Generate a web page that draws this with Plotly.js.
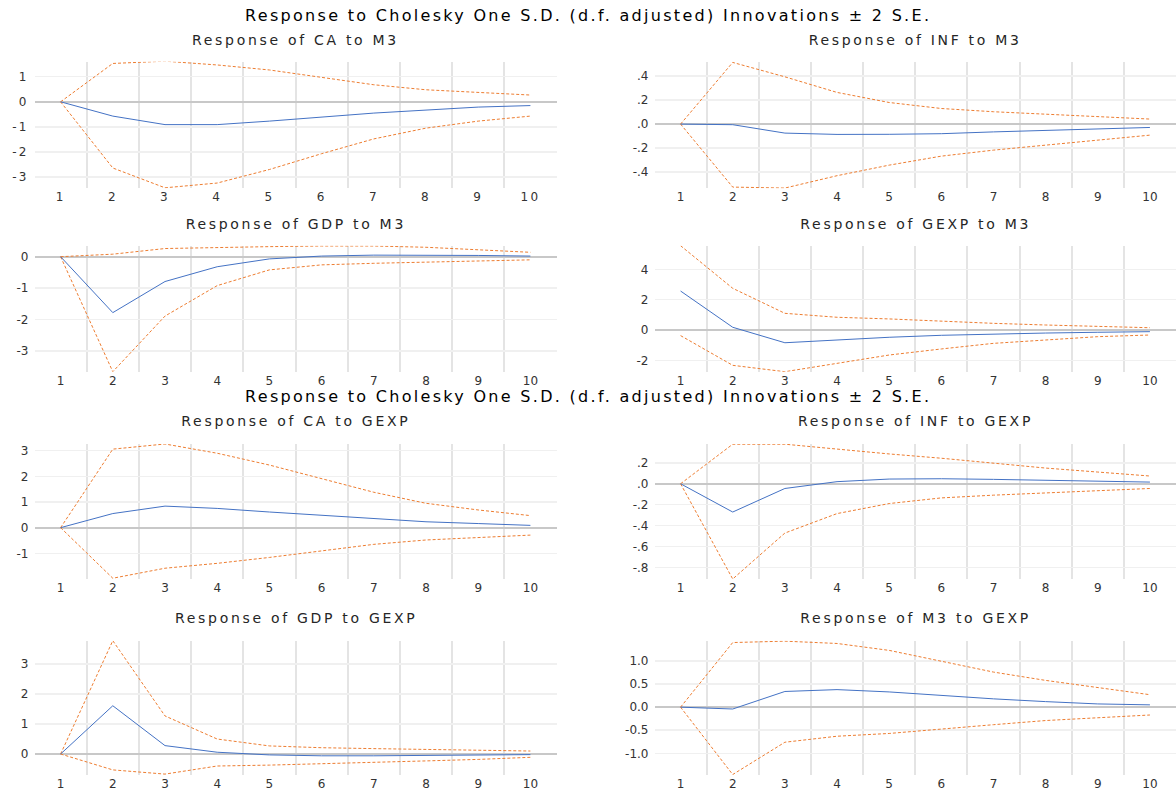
<!DOCTYPE html>
<html>
<head>
<meta charset="utf-8">
<script src="https://cdn.plot.ly/plotly-3.0.1.min.js"></script>
<style>
  html, body { margin: 0; padding: 0; background: #fff; }
  #chart { width: 1176px; height: 794px; }
  .main-svg .xtick text, .main-svg .ytick text { letter-spacing: 2.2px; }
  .main-svg .annotation-text { letter-spacing: 2.7px; }
  .main-svg .annotation.main-title .annotation-text { letter-spacing: 2.3px; }
</style>
</head>
<body>
<div id="chart"></div>
<script>
// ---------------- DATA ----------------
const periods = [1, 2, 3, 4, 5, 6, 7, 8, 9, 10];

const mainTitle = "Response to Cholesky One S.D. (d.f. adjusted) Innovations ± 2 S.E.";

const panelTitles = [
  "Response of CA to M3", "Response of INF to M3",
  "Response of GDP to M3", "Response of GEXP to M3",
  "Response of CA to GEXP", "Response of INF to GEXP",
  "Response of GDP to GEXP", "Response of M3 to GEXP"
];

// Response of CA to M3
const caM3Resp  = [0, -0.57, -0.91, -0.91, -0.77, -0.61, -0.45, -0.33, -0.21, -0.15];
const caM3Upper = [0, 1.53, 1.62, 1.47, 1.27, 0.98, 0.68, 0.48, 0.37, 0.27];
const caM3Lower = [0, -2.64, -3.43, -3.24, -2.70, -2.07, -1.48, -1.05, -0.77, -0.57];

// Response of INF to M3
const infM3Resp  = [0, -0.005, -0.075, -0.086, -0.085, -0.080, -0.065, -0.053, -0.040, -0.028];
const infM3Upper = [0, 0.514, 0.394, 0.264, 0.180, 0.130, 0.103, 0.083, 0.064, 0.042];
const infM3Lower = [0, -0.525, -0.533, -0.430, -0.342, -0.267, -0.217, -0.175, -0.139, -0.092];

// Response of GDP to M3
const gdpM3Resp  = [0, -1.78, -0.79, -0.32, -0.07, 0.02, 0.05, 0.05, 0.04, 0.02];
const gdpM3Upper = [0, 0.08, 0.26, 0.30, 0.32, 0.34, 0.34, 0.30, 0.23, 0.14];
const gdpM3Lower = [0, -3.66, -1.89, -0.92, -0.42, -0.26, -0.21, -0.17, -0.13, -0.10];

// Response of GEXP to M3
const gexpM3Resp  = [2.57, 0.18, -0.84, -0.66, -0.48, -0.35, -0.26, -0.20, -0.15, -0.11];
const gexpM3Upper = [5.56, 2.75, 1.10, 0.84, 0.73, 0.57, 0.44, 0.33, 0.24, 0.15];
const gexpM3Lower = [-0.37, -2.33, -2.75, -2.20, -1.65, -1.25, -0.88, -0.66, -0.44, -0.33];

// Response of CA to GEXP
const caGexpResp  = [0, 0.55, 0.84, 0.75, 0.61, 0.48, 0.35, 0.23, 0.16, 0.09];
const caGexpUpper = [0, 3.06, 3.26, 2.90, 2.44, 1.92, 1.38, 0.95, 0.69, 0.47];
const caGexpLower = [0, -1.97, -1.58, -1.39, -1.16, -0.90, -0.65, -0.48, -0.38, -0.29];

// Response of INF to GEXP
const infGexpResp  = [0, -0.27, -0.045, 0.020, 0.045, 0.048, 0.042, 0.035, 0.026, 0.016];
const infGexpUpper = [0, 0.378, 0.378, 0.330, 0.285, 0.244, 0.195, 0.150, 0.112, 0.074];
const infGexpLower = [0, -0.91, -0.471, -0.285, -0.189, -0.135, -0.109, -0.087, -0.067, -0.045];

// Response of GDP to GEXP
const gdpGexpResp  = [0, 1.61, 0.28, 0.06, -0.03, -0.06, -0.06, -0.04, -0.03, -0.02];
const gdpGexpUpper = [0, 3.78, 1.27, 0.50, 0.27, 0.21, 0.18, 0.16, 0.13, 0.10];
const gdpGexpLower = [0, -0.53, -0.67, -0.40, -0.37, -0.33, -0.29, -0.23, -0.18, -0.11];

// Response of M3 to GEXP
const m3GexpResp  = [0, -0.04, 0.34, 0.38, 0.33, 0.25, 0.18, 0.12, 0.07, 0.05];
const m3GexpUpper = [0, 1.40, 1.43, 1.38, 1.23, 0.99, 0.76, 0.58, 0.42, 0.27];
const m3GexpLower = [0, -1.46, -0.76, -0.63, -0.57, -0.47, -0.38, -0.29, -0.23, -0.17];

// Y tick values and labels
const intTicks5   = [-3, -2, -1, 0, 1];
const intLabels5  = ["-3", "-2", "-1", "0", "1"];
const gdpM3Ticks  = [-3, -2, -1, 0];
const gdpM3Labels = ["-3", "-2", "-1", "0"];
const infM3Ticks  = [-0.4, -0.2, 0, 0.2, 0.4];
const infM3Labels = ["-.4", "-.2", ".0", ".2", ".4"];
const gexpM3Ticks  = [-2, 0, 2, 4];
const gexpM3Labels = ["-2", "0", "2", "4"];
const caGexpTicks  = [-1, 0, 1, 2, 3];
const caGexpLabels = ["-1", "0", "1", "2", "3"];
const infGexpTicks  = [-0.8, -0.6, -0.4, -0.2, 0, 0.2];
const infGexpLabels = ["-.8", "-.6", "-.4", "-.2", ".0", ".2"];
const gdpGexpTicks  = [0, 1, 2, 3];
const gdpGexpLabels = ["0", "1", "2", "3"];
const m3GexpTicks  = [-1.0, -0.5, 0, 0.5, 1.0];
const m3GexpLabels = ["-1.0", "-0.5", "0.0", "0.5", "1.0"];

// ---------------- LAYOUT HELPERS ----------------
const W = 1176, H = 794;
const colX = [[34.5, 556.5], [654.5, 1176]];
const rowY = [[61.7, 188.3], [245.7, 371.7], [444, 579], [640.7, 775]];

const panels = [
  {resp: caM3Resp,    up: caM3Upper,    lo: caM3Lower,    range: [-3.45, 1.6],   tv: intTicks5,    tt: intLabels5},
  {resp: infM3Resp,   up: infM3Upper,   lo: infM3Lower,   range: [-0.535, 0.52], tv: infM3Ticks,   tt: infM3Labels},
  {resp: gdpM3Resp,   up: gdpM3Upper,   lo: gdpM3Lower,   range: [-3.66, 0.35],  tv: gdpM3Ticks,   tt: gdpM3Labels},
  {resp: gexpM3Resp,  up: gexpM3Upper,  lo: gexpM3Lower,  range: [-2.75, 5.56],  tv: gexpM3Ticks,  tt: gexpM3Labels},
  {resp: caGexpResp,  up: caGexpUpper,  lo: caGexpLower,  range: [-2.0, 3.26],   tv: caGexpTicks,  tt: caGexpLabels},
  {resp: infGexpResp, up: infGexpUpper, lo: infGexpLower, range: [-0.91, 0.38],  tv: infGexpTicks, tt: infGexpLabels},
  {resp: gdpGexpResp, up: gdpGexpUpper, lo: gdpGexpLower, range: [-0.7, 3.78],   tv: gdpGexpTicks, tt: gdpGexpLabels},
  {resp: m3GexpResp,  up: m3GexpUpper,  lo: m3GexpLower,  range: [-1.47, 1.44],  tv: m3GexpTicks,  tt: m3GexpLabels}
];

const blue = "#4472C4";
const orange = "#ED7D31";
const tickFont = {family: "DejaVu Sans", size: 12, color: "#333333"};
const gridBetween = periods.slice(0, -1).map(p => p + 0.5);

const traces = [];
const layout = {
  width: W, height: H,
  margin: {l: 0, r: 0, t: 0, b: 0},
  paper_bgcolor: "#ffffff",
  plot_bgcolor: "#ffffff",
  showlegend: false,
  hovermode: false,
  annotations: []
};

panels.forEach((p, i) => {
  const row = Math.floor(i / 2), col = i % 2;
  const n = i + 1;
  const xa = "x" + (n === 1 ? "" : n), ya = "y" + (n === 1 ? "" : n);
  const xKey = "xaxis" + (n === 1 ? "" : n), yKey = "yaxis" + (n === 1 ? "" : n);
  const [x0, x1] = colX[col];
  const [yt, yb] = rowY[row];

  layout[xKey] = {
    domain: [x0 / W, Math.min(1, x1 / W)],
    range: [0.5, 10.5],
    anchor: ya,
    tickmode: "array",
    tickvals: periods,
    ticktext: periods.map(String),
    showgrid: false,
    zeroline: false,
    showline: false,
    ticks: "",
    tickfont: tickFont,
    ticklabelstandoff: 0,
    fixedrange: true,
    minor: {tickmode: "array", tickvals: gridBetween, showgrid: true, gridcolor: "#E4E4E4", gridwidth: 2, ticks: ""}
  };
  layout[yKey] = {
    domain: [1 - yb / H, 1 - yt / H],
    range: p.range,
    anchor: xa,
    tickmode: "array",
    tickvals: p.tv,
    ticktext: p.tt,
    showgrid: true,
    gridcolor: "#F0F0F0",
    gridwidth: 1.5,
    zeroline: true,
    zerolinecolor: "#C8C8C8",
    zerolinewidth: 2,
    showline: false,
    ticks: "",
    tickfont: tickFont,
    ticklabelstandoff: 5,
    fixedrange: true
  };

  traces.push({x: periods, y: p.up, xaxis: xa, yaxis: ya, type: "scatter", mode: "lines",
               line: {color: orange, width: 1, dash: "3px,2px"}, cliponaxis: true});
  traces.push({x: periods, y: p.lo, xaxis: xa, yaxis: ya, type: "scatter", mode: "lines",
               line: {color: orange, width: 1, dash: "3px,2px"}, cliponaxis: true});
  traces.push({x: periods, y: p.resp, xaxis: xa, yaxis: ya, type: "scatter", mode: "lines",
               line: {color: blue, width: 1}, cliponaxis: true});

  const titleY = [40, 224, 420.7, 618][row];
  layout.annotations.push({
    text: panelTitles[i], xref: "paper", yref: "paper",
    x: ((x0 + x1) / 2) / W, y: 1 - titleY / H,
    xanchor: "center", yanchor: "middle", showarrow: false,
    font: {family: "DejaVu Sans", size: 14, color: "#262626"}
  });
});

[15, 396.5].forEach(ty => {
  layout.annotations.push({
    text: mainTitle, xref: "paper", yref: "paper",
    x: 588 / W, y: 1 - ty / H,
    xanchor: "center", yanchor: "middle", showarrow: false,
    font: {family: "DejaVu Sans", size: 16, color: "#000000"}
  });
});

Plotly.newPlot("chart", traces, layout, {staticPlot: true, displayModeBar: false}).then(gd => {
  // mark the two overall titles so their letter spacing can differ from panel titles
  const anns = gd.querySelectorAll(".annotation");
  const total = layout.annotations.length;
  anns.forEach((a, k) => { if (k >= total - 2) a.classList.add("main-title"); });
});
</script>
</body>
</html>
